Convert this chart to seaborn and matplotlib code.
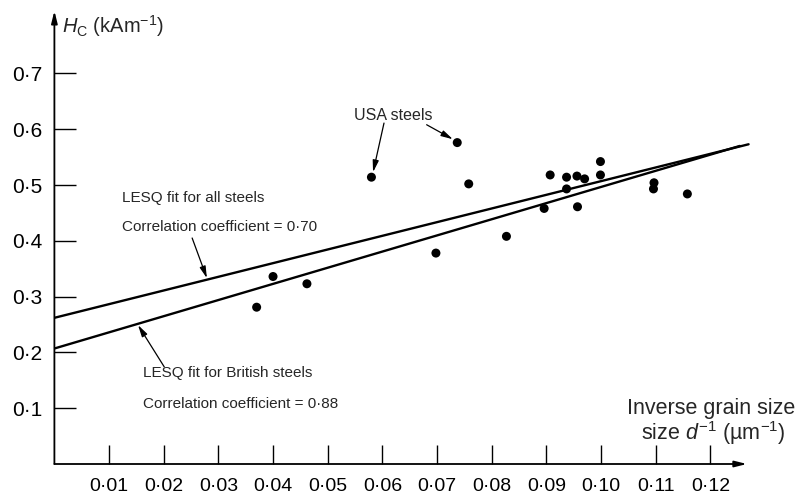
import matplotlib
matplotlib.use("Agg")
import matplotlib.pyplot as plt
import seaborn as sns

# Coercive force vs inverse grain size
grain_inv = [0.0370, 0.0400, 0.0462, 0.0580, 0.0698, 0.0737, 0.0758, 0.0827,
             0.0896, 0.0907, 0.0937, 0.0937, 0.0956, 0.0957, 0.0970, 0.0999,
             0.0999, 0.1097, 0.1096, 0.1158]
hc = [0.281, 0.336, 0.323, 0.514, 0.378, 0.576, 0.502, 0.408,
      0.458, 0.518, 0.514, 0.493, 0.516, 0.461, 0.511, 0.542,
      0.518, 0.504, 0.493, 0.484]

# Least-squares fit lines (end points)
fit_all_x = [0.0, 0.1270]
fit_all_y = [0.262, 0.573]
fit_brit_x = [0.0, 0.1254]
fit_brit_y = [0.207, 0.570]

xtick_vals = [0.01, 0.02, 0.03, 0.04, 0.05, 0.06, 0.07, 0.08, 0.09, 0.10, 0.11, 0.12]
xtick_labels = ["0·01", "0·02", "0·03", "0·04", "0·05", "0·06", "0·07", "0·08",
                "0·09", "0·10", "0·11", "0·12"]
ytick_vals = [0.1, 0.2, 0.3, 0.4, 0.5, 0.6, 0.7]
ytick_labels = ["0·1", "0·2", "0·3", "0·4", "0·5", "0·6", "0·7"]

sns.set_theme(style="white")
family = "Liberation Sans"
plt.rcParams["font.family"] = [family, "DejaVu Sans"]
plt.rcParams["mathtext.fontset"] = "custom"
plt.rcParams["mathtext.rm"] = family
plt.rcParams["mathtext.it"] = family + ":italic"

W, H = 799, 501
fig = plt.figure(figsize=(W / 100, H / 100), dpi=100)
x0_px, y0_px = 54.4, 464.0
px_per_x, px_per_y = 5466.0, 558.0
xmax, ymax = 0.13, 0.82
ax = fig.add_axes([x0_px / W, (H - y0_px) / H,
                   xmax * px_per_x / W, ymax * px_per_y / H])
ax.set_xlim(0, xmax)
ax.set_ylim(0, ymax)
for s in ax.spines.values():
    s.set_visible(False)

# axes drawn as arrows
arrow_kw = dict(arrowstyle="-|>,head_length=0.6,head_width=0.15", lw=1.3, color="black",
                shrinkA=0, shrinkB=0, mutation_scale=12)
ax.annotate("", xy=(0, 0.812), xytext=(0, 0), arrowprops=arrow_kw, annotation_clip=False)
ax.annotate("", xy=(0.1267, 0), xytext=(0, 0), arrowprops=arrow_kw, annotation_clip=False)

sns.lineplot(x=fit_all_x, y=fit_all_y, color="black", lw=1.7, ax=ax)
sns.lineplot(x=fit_brit_x, y=fit_brit_y, color="black", lw=1.7, ax=ax)
sns.scatterplot(x=grain_inv, y=hc, color="black", s=42, edgecolor="none", ax=ax, zorder=3)

ax.set_xticks(xtick_vals)
ax.set_xticklabels(xtick_labels)
ax.set_yticks(ytick_vals)
ax.set_yticklabels(ytick_labels)
ax.tick_params(axis="x", direction="in", length=14, width=1.0, pad=10, labelsize=14,
               bottom=True, colors="black")
ax.tick_params(axis="y", direction="in", length=16, width=1.0, pad=9, labelsize=15,
               left=True, colors="black")
ax.set_xlabel("")
ax.set_ylabel("")

ax.text(0.0014, 0.785, r"$H_{\rm C}$ (kAm$^{-1}$)", fontsize=14.5, ha="left", va="center")

ann_fs = 11
ax.text(0.0620, 0.625, "USA steels", fontsize=11.5, ha="center", va="center")
ax.text(0.0124, 0.477, "LESQ fit for all steels", fontsize=ann_fs, ha="left", va="center")
ax.text(0.0124, 0.425, "Correlation coefficient = 0·70", fontsize=ann_fs, ha="left", va="center")
ax.text(0.0162, 0.163, "LESQ fit for British steels", fontsize=ann_fs, ha="left", va="center")
ax.text(0.0162, 0.1075, "Correlation coefficient = 0·88", fontsize=ann_fs, ha="left", va="center")

ax.text(0.1355, 0.100, "Inverse grain size", fontsize=15.5, ha="right", va="center")
ax.text(0.1338, 0.0556, "size $d^{-1}$ (µm$^{-1}$)", fontsize=15.5, ha="right", va="center")

pointer = dict(arrowstyle="-|>,head_length=0.7,head_width=0.18", lw=0.9, color="black",
               shrinkA=0, shrinkB=0, mutation_scale=10)
ax.annotate("", xy=(0.0583, 0.523), xytext=(0.0603, 0.611), arrowprops=pointer)
ax.annotate("", xy=(0.0729, 0.582), xytext=(0.0681, 0.608), arrowprops=pointer)
ax.annotate("", xy=(0.0279, 0.333), xytext=(0.0252, 0.405), arrowprops=pointer)
ax.annotate("", xy=(0.0153, 0.249), xytext=(0.0201, 0.174), arrowprops=pointer)

fig.savefig("out.png", dpi=100, facecolor="white")
